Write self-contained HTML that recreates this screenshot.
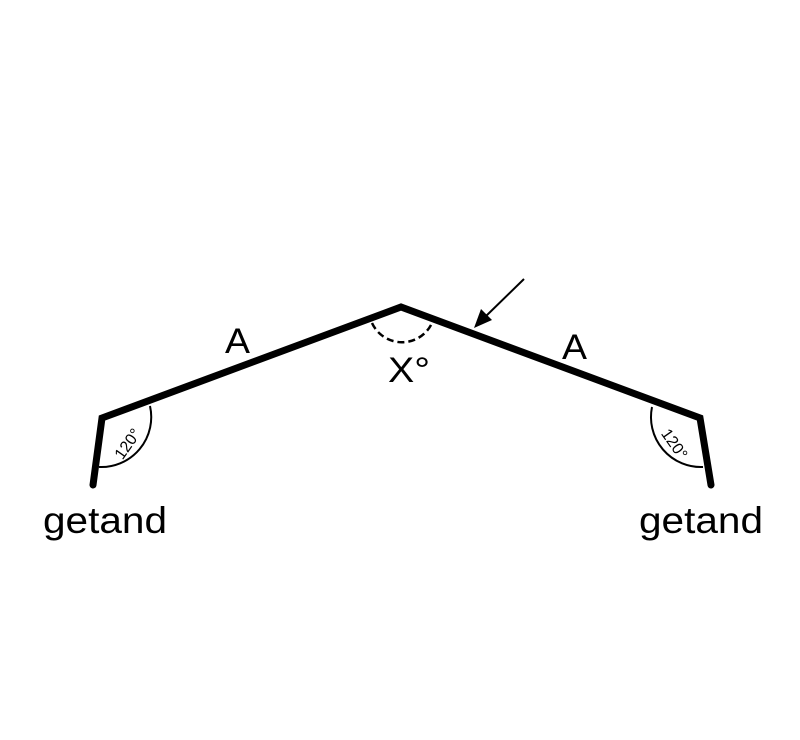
<!DOCTYPE html>
<html><head><meta charset="utf-8"><style>
html,body{margin:0;padding:0;background:#fff;width:800px;height:740px;overflow:hidden}
text{font-family:"Liberation Sans",sans-serif;fill:#000}
</style></head><body>
<svg width="800" height="740" viewBox="0 0 800 740" xmlns="http://www.w3.org/2000/svg">
<polyline points="93,485 102,418 401,307 700,418 711,485" fill="none" stroke="#000" stroke-width="7" stroke-linejoin="miter" stroke-linecap="round"/>
<path d="M372,323 A33,33 0 0 0 432,323" fill="none" stroke="#000" stroke-width="2.5" stroke-dasharray="7,4"/>
<path d="M150,406 A50,50 0 0 1 99,467" fill="none" stroke="#000" stroke-width="2"/>
<path d="M652,407 A50,50 0 0 0 703,467" fill="none" stroke="#000" stroke-width="2"/>
<line x1="524" y1="279" x2="484" y2="318" stroke="#000" stroke-width="2"/>
<polygon points="474,328 481,309 492,320" fill="#000"/>
<text x="225" y="353" font-size="35" textLength="25" lengthAdjust="spacingAndGlyphs">A</text>
<text x="562" y="359" font-size="35" textLength="25" lengthAdjust="spacingAndGlyphs">A</text>
<text x="388" y="382" font-size="35" textLength="42" lengthAdjust="spacingAndGlyphs">X°</text>
<text x="43" y="533" font-size="37" textLength="124" lengthAdjust="spacingAndGlyphs">getand</text>
<text x="639" y="533" font-size="37" textLength="124" lengthAdjust="spacingAndGlyphs">getand</text>
<text x="132" y="447" font-size="16" text-anchor="middle" transform="rotate(-55 132 447)">120°</text>
<text x="670" y="447" font-size="16" text-anchor="middle" transform="rotate(55 670 447)">120°</text>
</svg>
</body></html>
